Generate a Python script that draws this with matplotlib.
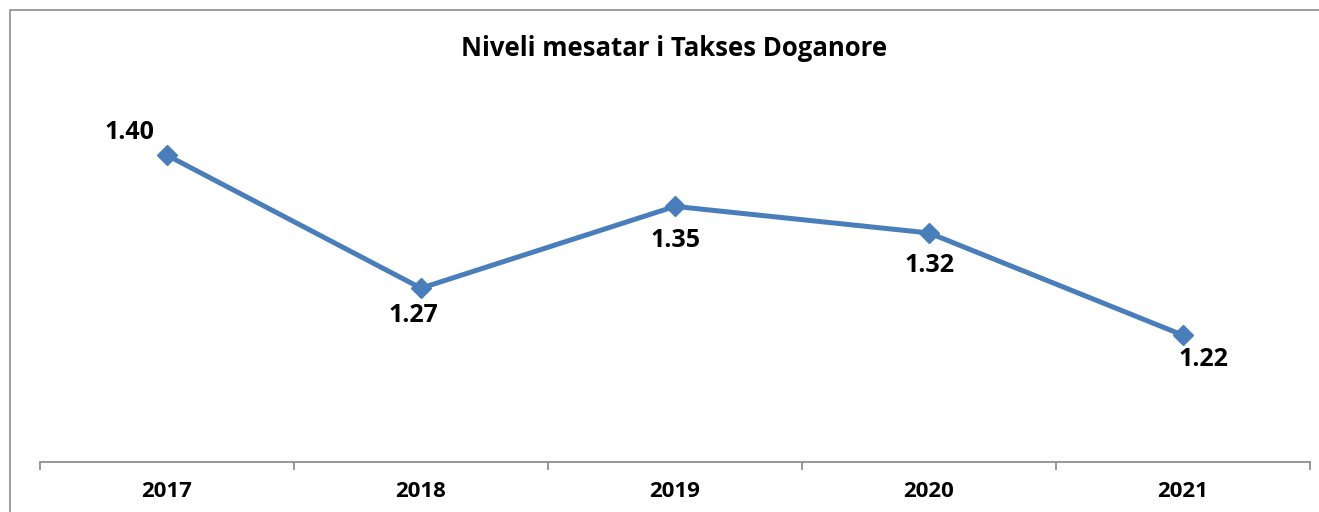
import matplotlib
matplotlib.use("Agg")
import matplotlib.pyplot as plt
from matplotlib.patches import Rectangle

years = ["2017", "2018", "2019", "2020", "2021"]
values = [1.40, 1.27, 1.35, 1.324, 1.224]
title = "Niveli mesatar i Takses Doganore"

# label offsets in pixels (dx, dy)
label_offsets = [(-38, 23), (-8, -27), (0, -34), (0, -33), (20, -24)]

plt.rcParams['font.family'] = ['Open Sans', 'DejaVu Sans']

fig = plt.figure(figsize=(13.19, 5.12), dpi=100)
fig.patches.append(Rectangle((10/1319, -0.1), 1.2, (502/512) + 0.1, transform=fig.transFigure,
                             fill=False, edgecolor='#8c8c8c', linewidth=1.2))

ax = fig.add_axes([40/1319, 50/512, 1270/1319, 409/512])
x = list(range(len(years)))
color = '#4a7ebb'
ax.plot(x, values, color=color, linewidth=3.6, marker='D', markersize=10.5,
        markerfacecolor=color, markeredgecolor=color, solid_capstyle='round')

for xi, v, (dx, dy) in zip(x, values, label_offsets):
    ax.annotate(f"{v:.2f}", (xi, v), xytext=(dx * 0.72, dy * 0.72), textcoords='offset points',
                ha='center', va='center', fontsize=18, fontweight='bold', color='black')

ax.set_xlim(-0.5, len(years) - 0.5)
ax.set_ylim(1.1, 1.5)
ax.set_xticks(x)
ax.set_xticklabels(years, fontsize=16, fontweight='bold')
ax.set_xticks([i - 0.5 for i in range(len(years) + 1)], minor=True)
ax.tick_params(axis='x', which='major', length=0, pad=14)
ax.tick_params(axis='x', which='minor', length=6, color='#868686', width=1.2, direction='out')
ax.set_yticks([])
for s in ['top', 'right', 'left']:
    ax.spines[s].set_visible(False)
ax.spines['bottom'].set_color('#868686')
ax.spines['bottom'].set_linewidth(1.2)

fig.text(674/1319, 1 - 49/512, title, ha='center', va='center', fontsize=18.5, fontweight='bold')

fig.savefig("out.png", dpi=100)
